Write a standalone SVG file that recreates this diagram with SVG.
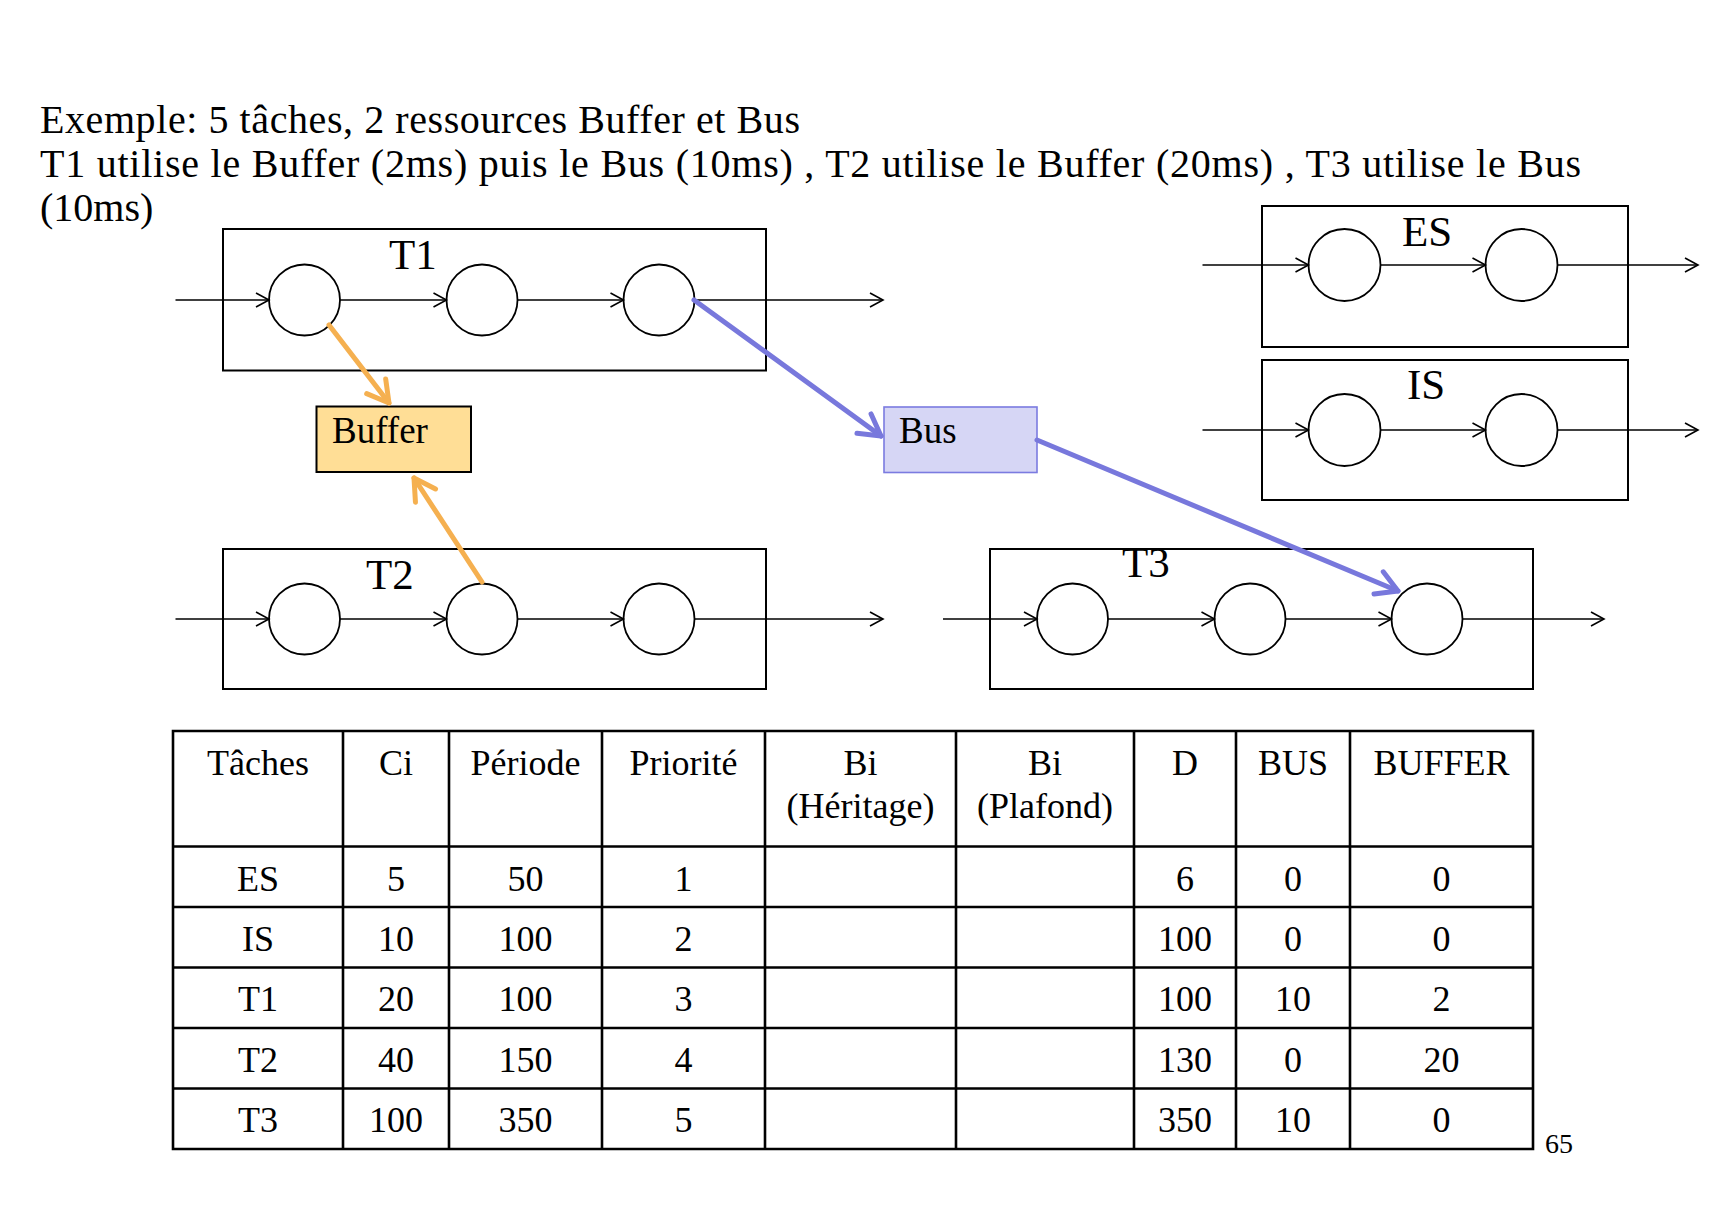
<svg xmlns="http://www.w3.org/2000/svg" width="1719" height="1225" viewBox="0 0 1719 1225">
<style>
text{font-family:"Liberation Serif","Times New Roman",serif;fill:#000}
.title{font-size:40px}
.lbl{font-size:43px}
.res{font-size:37px}
.cell{font-size:36px;text-anchor:middle}
.box{fill:#fff;stroke:#000;stroke-width:2}
.st{fill:#fff;stroke:#000;stroke-width:1.8}
.flow{fill:none;stroke:#000;stroke-width:1.6;marker-end:url(#ah)}
.grid{stroke:#000;stroke-width:2.6;fill:none}
.org{fill:none;stroke:#F5B050;stroke-width:5;stroke-linecap:round;marker-end:url(#ao)}
.blu{fill:none;stroke:#7878DC;stroke-width:5;stroke-linecap:round;marker-end:url(#ab)}
</style>
<defs>
<marker id="ah" markerUnits="userSpaceOnUse" viewBox="0 0 16 16" refX="14" refY="8" markerWidth="16" markerHeight="16" orient="auto" overflow="visible">
<path d="M1,1 L14,8 L1,15" fill="none" stroke="#000" stroke-width="1.6"/>
</marker>
<marker id="ao" markerUnits="userSpaceOnUse" viewBox="0 0 30 30" refX="24" refY="15" markerWidth="30" markerHeight="30" orient="auto" overflow="visible">
<path d="M3,3 L24,15 L3,27" fill="none" stroke="#F5B050" stroke-width="5" stroke-linecap="round" stroke-linejoin="round"/>
</marker>
<marker id="ab" markerUnits="userSpaceOnUse" viewBox="0 0 30 30" refX="24" refY="15" markerWidth="30" markerHeight="30" orient="auto" overflow="visible">
<path d="M3,3 L24,15 L3,27" fill="none" stroke="#7878DC" stroke-width="5" stroke-linecap="round" stroke-linejoin="round"/>
</marker>
</defs>
<rect width="1719" height="1225" fill="#fff"/>
<g id="title" xml:space="preserve">
<text class="title" x="40" y="133" textLength="760" lengthAdjust="spacing">Exemple: 5 tâches, 2 ressources Buffer et Bus</text>
<text class="title" x="40" y="177" textLength="1541" lengthAdjust="spacing">T1 utilise le Buffer (2ms) puis le Bus (10ms)  , T2 utilise le Buffer (20ms) ,  T3 utilise le Bus</text>
<text class="title" x="40" y="221">(10ms)</text>
</g>
<g id="T1">
<rect class="box" x="223" y="229" width="543" height="141.5"/>
<text class="lbl" x="389" y="269">T1</text>
<circle class="st" cx="304.5" cy="300" r="35.5"/>
<circle class="st" cx="482" cy="300" r="35.5"/>
<circle class="st" cx="659" cy="300" r="35.5"/>
</g>
<g id="T2">
<rect class="box" x="223" y="549" width="543" height="140"/>
<text class="lbl" x="366" y="589">T2</text>
<circle class="st" cx="304.5" cy="619" r="35.5"/>
<circle class="st" cx="482" cy="619" r="35.5"/>
<circle class="st" cx="659" cy="619" r="35.5"/>
</g>
<g id="T3">
<rect class="box" x="990" y="549" width="543" height="140"/>
<text class="lbl" x="1122" y="577">T3</text>
<circle class="st" cx="1072.5" cy="619" r="35.5"/>
<circle class="st" cx="1250" cy="619" r="35.5"/>
<circle class="st" cx="1427" cy="619" r="35.5"/>
</g>
<g id="ES">
<rect class="box" x="1262" y="206" width="366" height="141"/>
<text class="lbl" x="1402" y="246">ES</text>
<circle class="st" cx="1344.5" cy="265" r="36"/>
<circle class="st" cx="1521.5" cy="265" r="36"/>
</g>
<g id="IS">
<rect class="box" x="1262" y="360" width="366" height="140"/>
<text class="lbl" x="1407" y="399">IS</text>
<circle class="st" cx="1344.5" cy="430" r="36"/>
<circle class="st" cx="1521.5" cy="430" r="36"/>
</g>
<g id="Buffer">
<rect x="316.5" y="406.5" width="154.5" height="65.5" fill="#FFDE96" stroke="#000" stroke-width="2"/>
<text class="res" x="332" y="442.5">Buffer</text>
</g>
<g id="Bus">
<rect x="884" y="407" width="153" height="65.5" fill="#D6D6F5" stroke="#7B7BE0" stroke-width="1.6"/>
<text class="res" x="899" y="442.5">Bus</text>
</g>
<g id="connectors">
<path class="flow" d="M175.5,300 H269"/>
<path class="flow" d="M340,300 H446.5"/>
<path class="flow" d="M517.5,300 H623.5"/>
<path class="flow" d="M694.5,300 H883"/>
<path class="flow" d="M175.5,619 H269"/>
<path class="flow" d="M340,619 H446.5"/>
<path class="flow" d="M517.5,619 H623.5"/>
<path class="flow" d="M694.5,619 H883"/>
<path class="flow" d="M943,619 H1037"/>
<path class="flow" d="M1108,619 H1214.5"/>
<path class="flow" d="M1285.5,619 H1391.5"/>
<path class="flow" d="M1462.5,619 H1604"/>
<path class="flow" d="M1202.5,265 H1308.5"/>
<path class="flow" d="M1380.5,265 H1485.5"/>
<path class="flow" d="M1557.5,265 H1698"/>
<path class="flow" d="M1202.5,430 H1308.5"/>
<path class="flow" d="M1380.5,430 H1485.5"/>
<path class="flow" d="M1557.5,430 H1698"/>
<path class="org" d="M329,325 L389,403"/>
<path class="org" d="M482,582 L414,478"/>
<path class="blu" d="M694,300 L881,436"/>
<path class="blu" d="M1037,440 L1398,591"/>
</g>
<g id="table">
<path class="grid" d="M173,731 H1533 V1149 H173 Z M173,846.5 H1533 M173,907 H1533 M173,967.5 H1533 M173,1028 H1533 M173,1088.5 H1533 M343,731 V1149 M449,731 V1149 M602,731 V1149 M765,731 V1149 M956,731 V1149 M1134,731 V1149 M1236,731 V1149 M1350,731 V1149"/>
<text class="cell" x="258" y="775">Tâches</text>
<text class="cell" x="396" y="775">Ci</text>
<text class="cell" x="525.5" y="775">Période</text>
<text class="cell" x="683.5" y="775">Priorité</text>
<text class="cell" x="860.5" y="775">Bi</text>
<text class="cell" x="860.5" y="818">(Héritage)</text>
<text class="cell" x="1045" y="775">Bi</text>
<text class="cell" x="1045" y="818">(Plafond)</text>
<text class="cell" x="1185" y="775">D</text>
<text class="cell" x="1293" y="775">BUS</text>
<text class="cell" x="1441.5" y="775">BUFFER</text>
<g>
<text class="cell" x="258" y="891">ES</text><text class="cell" x="396" y="891">5</text><text class="cell" x="525.5" y="891">50</text><text class="cell" x="683.5" y="891">1</text><text class="cell" x="1185" y="891">6</text><text class="cell" x="1293" y="891">0</text><text class="cell" x="1441.5" y="891">0</text>
</g>
<g>
<text class="cell" x="258" y="951">IS</text><text class="cell" x="396" y="951">10</text><text class="cell" x="525.5" y="951">100</text><text class="cell" x="683.5" y="951">2</text><text class="cell" x="1185" y="951">100</text><text class="cell" x="1293" y="951">0</text><text class="cell" x="1441.5" y="951">0</text>
</g>
<g>
<text class="cell" x="258" y="1011">T1</text><text class="cell" x="396" y="1011">20</text><text class="cell" x="525.5" y="1011">100</text><text class="cell" x="683.5" y="1011">3</text><text class="cell" x="1185" y="1011">100</text><text class="cell" x="1293" y="1011">10</text><text class="cell" x="1441.5" y="1011">2</text>
</g>
<g>
<text class="cell" x="258" y="1072">T2</text><text class="cell" x="396" y="1072">40</text><text class="cell" x="525.5" y="1072">150</text><text class="cell" x="683.5" y="1072">4</text><text class="cell" x="1185" y="1072">130</text><text class="cell" x="1293" y="1072">0</text><text class="cell" x="1441.5" y="1072">20</text>
</g>
<g>
<text class="cell" x="258" y="1132">T3</text><text class="cell" x="396" y="1132">100</text><text class="cell" x="525.5" y="1132">350</text><text class="cell" x="683.5" y="1132">5</text><text class="cell" x="1185" y="1132">350</text><text class="cell" x="1293" y="1132">10</text><text class="cell" x="1441.5" y="1132">0</text>
</g>
</g>
<text id="page" x="1545" y="1153" style="font-size:28px">65</text>
</svg>
